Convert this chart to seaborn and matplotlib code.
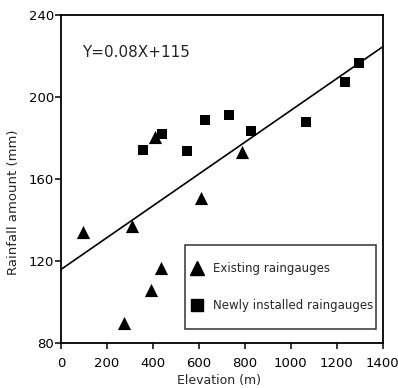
import matplotlib
matplotlib.use("Agg")
import matplotlib.pyplot as plt
from matplotlib.lines import Line2D
import seaborn as sns
import pandas as pd
import numpy as np

# Data
exist_x = [95, 310, 275, 390, 434, 409, 609, 789]
exist_y = [134, 137, 90, 106, 116.5, 180.5, 151, 173]
new_x = [358, 441, 550, 627, 730, 825, 1066, 1236, 1295]
new_y = [174, 182, 173.5, 189, 191.5, 183.5, 188, 207.5, 216.5]
fit_x = [0, 1400]
fit_y = [116, 224.5]
x_ticks = [0, 200, 400, 600, 800, 1000, 1200, 1400]
y_ticks = [80, 120, 160, 200, 240]
labels = ["Existing raingauges", "Newly installed raingauges"]
equation = "Y=0.08X+115"

sns.set_theme(style="ticks")
plt.rcParams['font.family'] = ['DejaVu Sans']

fig = plt.figure(figsize=(3.98, 3.88), dpi=100)
ax = fig.add_axes([61/398, 1-343.3/388, 321.7/398, 328.3/388])

df_e = pd.DataFrame({"x": exist_x, "y": exist_y})
df_n = pd.DataFrame({"x": new_x, "y": new_y})
df_f = pd.DataFrame({"x": fit_x, "y": fit_y})

sns.lineplot(data=df_f, x="x", y="y", ax=ax, color="black", linewidth=1.2)
sns.scatterplot(data=df_e, x="x", y="y", ax=ax, marker="^", s=90,
                color="black", linewidth=0)
sns.scatterplot(data=df_n, x="x", y="y", ax=ax, marker="s", s=62,
                color="black", linewidth=0)

ax.set_xlim(0, 1400)
ax.set_ylim(80, 240)
ax.set_xticks(x_ticks)
ax.set_yticks(y_ticks)
ax.tick_params(axis="both", direction="out", length=4, width=1.1,
               labelsize=9.5, colors="black")
ax.tick_params(axis="y", pad=1)
ax.tick_params(axis="x", pad=6)
for sp in ax.spines.values():
    sp.set_visible(True)
    sp.set_color("black")
    sp.set_linewidth(1.3)

ax.set_xlabel("Elevation (m)", fontsize=9)
ax.set_ylabel("Rainfall amount (mm)", fontsize=9.5)
ax.xaxis.set_label_coords(0.49, -0.093)
ax.yaxis.set_label_coords(-0.127, 0.43)

ax.text(0.065, 0.887, equation, transform=ax.transAxes, fontsize=11,
        va="center", ha="left")

handles = [
    Line2D([], [], marker="^", color="black", linestyle="none", markersize=9.5),
    Line2D([], [], marker="s", color="black", linestyle="none", markersize=8),
]
leg = ax.legend(handles, labels, loc="lower left",
                bbox_to_anchor=(0.385, 0.045, 0.595, 0.25), mode="expand",
                frameon=True, fancybox=False, edgecolor="black",
                fontsize=8.5, labelspacing=2.05, borderpad=1.4,
                handlelength=0.6, handletextpad=0.35, borderaxespad=0)
leg.get_frame().set_linewidth(1.1)
# nudge legend markers toward the frame's left edge (8 px)
shift_pt = 8 * 72 / 100
for h in leg.legend_handles:
    h.set_xdata(np.asarray(h.get_xdata(), dtype=float) - shift_pt)

fig.savefig("out.png", dpi=100)
